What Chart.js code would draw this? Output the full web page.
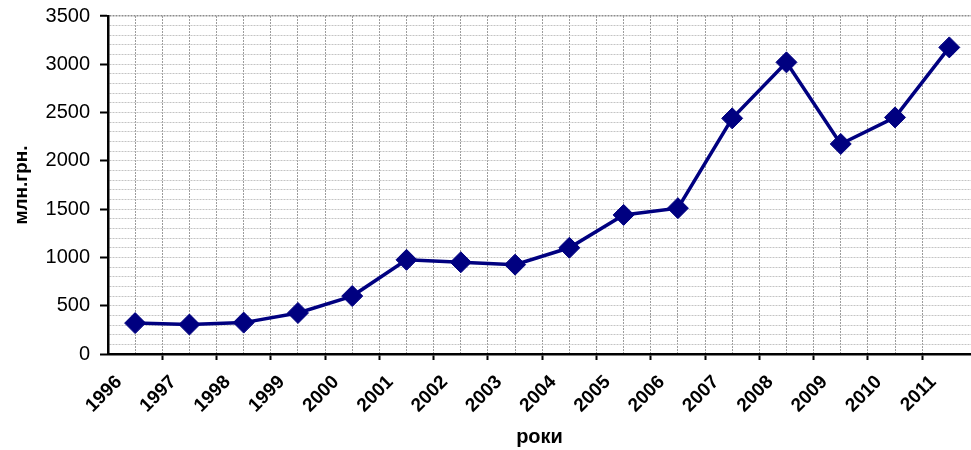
<!DOCTYPE html>
<html>
<head>
<meta charset="utf-8">
<script src="https://cdn.jsdelivr.net/npm/chart.js@4/dist/chart.umd.min.js"></script>
<style>
  html, body { margin: 0; padding: 0; background: #ffffff; }
  #wrap { width: 971px; height: 450px; position: relative; overflow: hidden; }
</style>
</head>
<body>
<div id="wrap"><canvas id="c" width="971" height="450"></canvas></div>
<script>
// ---- data ----
const years = ['1996','1997','1998','1999','2000','2001','2002','2003','2004','2005','2006','2007','2008','2009','2010','2011'];
const values = [320, 305, 325, 425, 600, 975, 950, 925, 1100, 1440, 1510, 2440, 3020, 2175, 2450, 3175];
const yTickLabels = [0, 500, 1000, 1500, 2000, 2500, 3000, 3500];
const yTitle = 'млн.грн.';
const xTitle = 'роки';

const FONT = "'Liberation Sans', Arial, sans-serif";
const isInt = v => Math.abs(v - Math.round(v)) < 1e-6;
const isHalf = v => Math.abs(v * 2 - Math.round(v * 2)) < 1e-6;

const points = years.map((y, i) => ({ x: i + 0.5, y: values[i] }));

new Chart(document.getElementById('c'), {
  type: 'line',
  data: {
    datasets: [{
      data: points,
      borderColor: '#000080',
      backgroundColor: '#000080',
      borderWidth: 3.5,
      tension: 0,
      pointStyle: 'rectRot',
      pointRadius: 10.5,
      pointHoverRadius: 10.5,
      pointBackgroundColor: '#000080',
      pointBorderColor: '#000080',
      pointBorderWidth: 1,
      clip: false
    }]
  },
  options: {
    responsive: false,
    animation: false,
    events: [],
    layout: { autoPadding: false, padding: { top: 16, right: 0, left: 0, bottom: 0 } },
    plugins: { legend: { display: false }, tooltip: { enabled: false } },
    scales: {
      x: {
        type: 'linear',
        min: 0,
        max: years.length - 0.1,   // plot area is cropped slightly at the right edge in the original
        afterFit: s => { s.height = 96; s.paddingRight = 0; s.paddingLeft = 0; },
        border: { display: true, color: '#000000', width: 2.5, dash: [2, 1] },
        grid: {
          color: ctx => (ctx.tick && (ctx.tick.value === 0 || !isHalf(ctx.tick.value))) ? 'rgba(0,0,0,0)' : '#9c9c9c',
          lineWidth: 1,
          tickLength: 6,
          tickWidth: 2,
          tickColor: ctx => (ctx.tick && isInt(ctx.tick.value) && ctx.tick.value < years.length && ctx.tick.value > 0) ? '#000000' : 'rgba(0,0,0,0)'
        },
        ticks: {
          stepSize: 0.5,
          autoSkip: false,
          minRotation: 45,
          maxRotation: 45,
          labelOffset: 11,
          padding: 11,
          color: '#000000',
          font: { family: FONT, size: 19, weight: 'bold' },
          callback: v => (isInt(v) && Math.round(v) < years.length) ? years[Math.round(v)] : ''
        },
        title: {
          display: true,
          text: xTitle,
          color: '#000000',
          font: { family: FONT, size: 20, weight: 'bold' },
          padding: 1
        }
      },
      y: {
        type: 'linear',
        min: 0,
        max: 3500,
        afterFit: s => { s.width = 108; s.paddingTop = 0; s.paddingBottom = 0; },
        border: { display: true, color: '#000000', width: 2.5, dash: [2, 1] },
        grid: {
          color: ctx => (ctx.tick && ctx.tick.value === 3500) ? '#8c8c8c' : (ctx.tick && ctx.tick.value === 0 ? 'rgba(0,0,0,0)' : '#c4c4c4'),
          lineWidth: ctx => (ctx.tick && ctx.tick.value === 3500) ? 1.5 : 1,
          tickLength: 8,
          tickWidth: 2,
          tickColor: ctx => (ctx.tick && yTickLabels.includes(ctx.tick.value)) ? '#000000' : 'rgba(0,0,0,0)'
        },
        ticks: {
          stepSize: 100,
          autoSkip: false,
          padding: 10,
          color: '#000000',
          font: { family: FONT, size: 20 },
          callback: v => yTickLabels.includes(v) ? String(v) : ''
        },
        title: {
          display: true,
          text: yTitle,
          color: '#000000',
          font: { family: FONT, size: 19, weight: 'bold' },
          padding: 10
        }
      }
    }
  }
});
</script>
</body>
</html>
